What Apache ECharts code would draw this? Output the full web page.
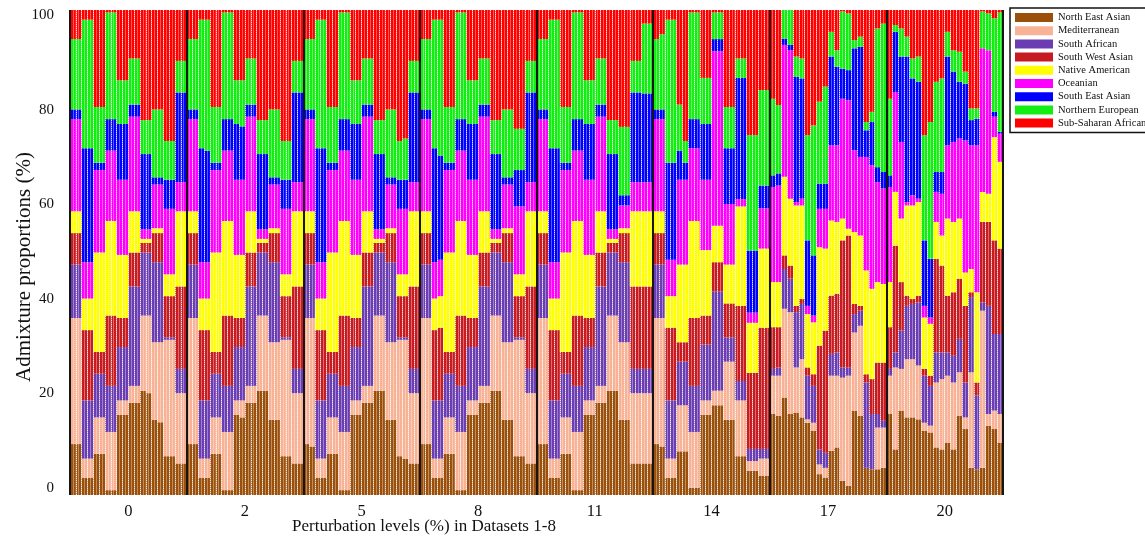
<!DOCTYPE html>
<html><head><meta charset="utf-8">
<script src="https://cdn.jsdelivr.net/npm/echarts@6/dist/echarts.min.js"></script>
<style>html,body{margin:0;padding:0;background:#fff}#c{width:1145px;height:543px}</style>
</head><body><div id="c"></div>
<script>
// Perturbation levels (one group of 20 individuals each)
const groupLabels = ['0', '2', '5', '8', '11', '14', '17', '20'];
const ancestryNames = ['North East Asian', 'Mediterranean', 'South African', 'South West Asian',
  'Native American', 'Oceanian', 'South East Asian', 'Northern European', 'Sub-Saharan African'];
const ancestryColors = ['#9A4F0B', '#F8B396', '#6B3DB2', '#C61B20', '#FFFF00', '#FF00FF', '#0000FF', '#12EE12', '#FF0000'];
const yTickLabels = ['0', '20', '40', '60', '80', '100'];

// Admixture proportions (%) per individual, 8 groups x 20 individuals
const northEastAsian = [
  10.5,10.5,3.5,3.5,8.5,8.5,1,1,16.5,16.5,19,19,21.5,21,15.5,15,8,8,6.5,6.5,
  10.5,10.5,3.5,3.5,8.5,8.5,1,1,16.5,16,19,19,21.5,21.5,15.5,15.5,8,8,6.5,6.5,
  10.5,10,3.5,3.5,8.5,8.5,1,1,16.5,16.5,19,19,21.5,21.5,15.5,15.5,8,7.5,6.5,6.5,
  10.5,10.5,3.5,3.5,8.5,8.5,1,1,16.5,16.5,19,19,21.5,21.5,15.5,15.5,8,8,6.5,6.5,
  10.5,10.5,3.5,3.5,8.5,8.5,1,1,16.5,16.5,19,19,21.5,21.5,15.5,15.5,6.5,6.5,6.5,6.5,
  10.5,10,3.5,3.5,9,9,1.5,1.5,16.5,16.5,18.5,18.5,15.5,15.5,8,8,5,5,4,4,
  16.7,16.3,20.1,16.7,17,16,14.9,13.2,4.3,3.6,9.1,9.8,2.9,1.9,17.4,16.3,5.6,5.3,5.3,5.6,
  16.7,9.4,17.4,16,16,15.6,13.2,12.9,9.8,9.4,10.8,9.4,16.3,13.6,5.6,5.3,5.6,14.3,13.6,10.8
];
const mediterranean = [
  26,26,4,4,7.5,7.5,12,12,3,3,3.5,3.5,15.5,16,16,16.5,24,24,14.5,14.5,
  26,26,4,4,7.5,7.5,12,12,3,3.5,3.5,3.5,15.5,15.5,16,16,24,24,14.5,14.5,
  26,26.5,4,4,7.5,7.5,12,12,3,3,3.5,3.5,15.5,15.5,16,16,24,24.5,14.5,14.5,
  26,26,4,4,7.5,7.5,12,12,3,3,3.5,3.5,15.5,15.5,16,16,24,24,14.5,14.5,
  26,26,4,4,7.5,7.5,12,12,3,3,3.5,3.5,15.5,15.5,16,16,14.5,14.5,14.5,14.5,
  26,26.5,4,4,9.5,9.5,11.5,11.5,3,3,3,3,12,12,11.5,11.5,2,2,3.5,3.5,
  7.9,8.3,18.3,21,9.3,12,0.7,1.7,2,2,15.5,14.8,21.3,22.7,16.1,18.6,0,0,8.6,8.3,
  7.9,16.9,8.6,12,12,11.1,1.7,1.4,13.4,14.5,13.8,13.8,9,2.4,19.7,0,32.4,2.4,3.8,5.9
];
const southAfrican = [
  11,11,12,12,9,9,9.5,9.5,11,11,20.5,20.5,13,13,16.5,16.5,0.5,0.5,5,5,
  11,11,12,12,9,9,9.5,9.5,11,11,20.5,20.5,13,13,16.5,16.5,0.5,0.5,5,5,
  11,11,12,12,9,9,9.5,9.5,11,11,20.5,20.5,13,13,16.5,16.5,0.5,0.5,5,5,
  11,11,12,12,9,9,9.5,9.5,11,11,20.5,20.5,13,13,16.5,16.5,0.5,0.5,5,5,
  11,11,12,12,9,9,9.5,9.5,11,11,20.5,20.5,13,13,16.5,16.5,5,5,5,5,
  11,11,12,12,9,9,9.5,9.5,11.5,11.5,20.5,20.5,5,5,4,4,2.5,2.5,2,2,
  1.4,1.7,8.2,6.9,11.4,11.4,9,7.6,3.1,3.1,4.5,4.8,2.1,1.7,3.8,3.1,17.6,11.4,2.8,1.4,
  1.4,3.1,7.9,11,11.4,13,9.7,8.2,6.2,5.5,4.8,5.5,6.9,7.2,15.5,15.2,1.7,22.3,15.8,16.5
];
const southWestAsian = [
  6.5,6.5,14.5,14.5,4.5,4.5,14.5,14.5,6,6,7,7,2,2,6,6,8.5,8.5,17,17,
  6.5,6.5,14.5,14.5,4.5,4.5,14.5,14.5,6,6,7,7,2,2,6,6,8.5,8.5,17,17,
  6.5,6.5,14.5,14.5,4.5,4.5,14.5,14.5,6,6,7,7,2,2,6,6,8.5,8.5,17,17,
  6.5,6.5,14.5,15,4.5,4.5,14.5,14.5,6,6,7,7,2,2,6,6,8.5,8.5,17,17,
  6.5,6.5,14.5,14.5,4.5,4.5,14.5,14.5,6,6,7,7,2,2,6,6,17,17,17,17,
  6.5,6.5,15,15,4,4,14,14,6,6,6,6,7,7,15.5,15.5,15.7,15.7,25,25,
  8.6,8.3,2.8,2.7,1.3,1,1.7,2.4,21.4,25.2,12,12.1,26.2,27.2,2.1,1,1.7,7.2,10.6,12,
  8.6,22,10,2.1,1,1.4,1.4,2.1,19.3,17.9,11.7,13.1,12.4,15.8,1,2.7,16.6,17.3,19.3,17.6
];
const nativeAmerican = [
  4.5,4.5,6.5,6.5,20.5,20.5,19.5,19.5,13,13,8.5,8.5,0.8,0.8,1,1,4.5,4.5,15.5,15.5,
  4.5,4.5,6.5,6.5,20.5,20.5,19.5,19.5,13,13,8.5,8.5,0.8,0.8,1,1,4.5,4.5,15.5,15.5,
  4.5,4.5,6.5,6.5,20.5,20.5,19.5,19.5,13,13,8.5,8.5,0.8,0.8,1,1,4.5,4.5,15.5,15.5,
  4.5,4.5,6.5,6.5,20.5,20.5,19.5,19.5,13,13,8.5,8.5,0.8,0.8,1,1,4.5,4.5,15.5,15.5,
  4.5,4.5,6.5,6.5,20.5,20.5,19.5,19.5,13,13,8.5,8.5,0.8,0.8,1,1,15.5,15.5,15.5,15.5,
  4.5,4.5,6.5,6.5,16,16,20,20,13.5,13.5,7.5,7.5,8,8,20.5,20.5,10.3,10.3,16.3,16.3,
  9.3,9.3,16.2,13.8,20.7,19.3,11,10.7,20.3,16.9,15.5,14.8,4.5,1.4,14.8,14.5,21.4,18.6,16.6,16.2,
  9.3,11.1,13.1,18.6,19.3,19.3,10.6,10.7,7.6,6.2,15.9,14.5,12.4,6.9,4.8,18.6,6.2,5.8,21.3,17.9
];
const oceanian = [
  19,19,7.5,7.5,17,17,14.5,14.5,15.5,15.5,19.5,19.5,2,2,9,9,13.5,13.5,6,6,
  19,19,7.5,7.5,17,17,14.5,14.5,15.5,15.5,19.5,19.5,2,2,9,9,13.5,13.5,6,6,
  19,19,7.5,7.5,17,17,14.5,14.5,15.5,15.5,19.5,19.5,2,2,9,9,13.5,13.5,6,6,
  19,19,7.5,7.5,17,17,14.5,14.5,15.5,15.5,19.5,19.5,2,2,9,9,14,14,6,6,
  19,19,7.5,7.5,17,17,14.5,14.5,15.5,15.5,19.5,19.5,2,2,4.7,4.7,6,6,6,6,
  19,19,7.5,7.5,17.5,17.5,15,15,14.5,14.5,36,36,12.5,12.5,1.5,1.5,2.1,2.1,8.3,8.3,
  19.6,19.9,27.2,30.6,0.7,1.4,1.7,1.4,7.9,8.2,15.5,15.8,24.7,26.5,16.9,16.2,23.4,25.5,20.6,19.7,
  19.6,20.6,15.8,0.7,2.1,0.7,2.4,1.3,6.2,8.6,15.1,16.5,16.5,27.2,25.5,30.3,29.6,29.6,4.2,5.8
];
const southEastAsian = [
  2,2,23.5,23.5,1.5,1.5,6.5,6.5,11.5,11.5,2.5,2.5,15.5,15.5,1.5,1.5,6,6,18.5,18.5,
  2,2,23.5,23,1.5,1.5,6.5,6.5,11.5,11,2.5,2.5,15.5,15.5,1.5,1.5,6,6,18.5,18.5,
  2,2,23.5,23.5,1.5,1.5,6.5,6.5,11.5,11.5,2.5,2.5,15.5,15.5,1.5,1.5,6,6,18.5,18.5,
  2,2,23.5,21.5,1.5,1.5,6.5,6.5,11.5,11.5,2.5,2.5,15.5,15.5,1.5,1.5,7.5,7.5,18.5,18.5,
  2,2,23.5,23.5,1.5,1.5,6.5,6.5,11.5,11.5,2.5,2.5,15.5,15.5,2.1,2.1,18.5,18.5,18.3,18.3,
  2,2,20,20,6,3.5,6,6,11.5,11.5,2.5,2.5,11.5,11.5,25,25,12.8,12.8,4.7,4.7,
  2.4,2.5,1.3,1.1,25.8,24.8,13.5,12.4,5.2,5.2,18.3,16.2,6.2,6.2,21,22.7,5.5,8.9,3.1,3.4,
  2.4,12.4,17.6,30,24.1,24.1,13.5,12.1,4.1,4.5,18.3,14.5,11.7,11.7,5.2,5.5,0,0,1,0.4
];
const northernEuropean = [
  14.5,14.5,26.5,26.5,11.5,11.5,22,22,9,9,9.5,9.5,7,7,14,14,8,8,6.5,6.5,
  14.5,14.5,26.5,27,11.5,11.5,22,22,9,9.5,9.5,9.5,7,7,14,14,8,8,6.5,6.5,
  14.5,14.5,26.5,26.5,11.5,11.5,22,22,9,9,9.5,9.5,7,7,14,14,8,8.5,6.5,6.5,
  14.5,14.5,26.5,28,11.5,11.5,22,22,9,9,9.5,9.5,7,7,14,14,8.5,8.5,6.5,6.5,
  14.5,14.5,26.5,26.5,11.5,11.5,22,22,9,9,9.5,9.5,7,7,14.1,14.1,6.5,6.5,14.4,14.4,
  14.5,15.5,29.5,29.5,9.5,4.5,22,22,9.5,9.5,5.5,5.5,8.5,8.5,4,4,23.8,23.8,19.7,19.7,
  15.8,14.1,5.9,7.2,4.2,4.1,21.7,26.8,16.9,20,5.1,3.4,11.8,11.7,1.7,2.1,1.7,2.1,28.6,30.6,
  15.8,1.4,5.8,4.1,4.1,5.2,21.7,28.2,18.6,19.3,5.1,4.4,6.2,2.5,2.4,2.1,7.6,7.6,19.3,24.6
];
const subSaharanAfrican = [
  6,6,2,2,20,20,0.5,0.5,14.5,14.5,10,10,22.7,22.7,20.5,20.5,27,27,10.5,10.5,
  6,6,2,2,20,20,0.5,0.5,14.5,14.5,10,10,22.7,22.7,20.5,20.5,27,27,10.5,10.5,
  6,6,2,2,20,20,0.5,0.5,14.5,14.5,10,10,22.7,22.7,20.5,20.5,27,26.5,10.5,10.5,
  6,6,2,2,20,20,0.5,0.5,14.5,14.5,10,10,22.7,22.7,20.5,20.5,24.5,24.5,10.5,10.5,
  6,6,2,2,20,20,0.5,0.5,14.5,14.5,10,10,22.7,22.7,24.1,24.1,10.5,10.5,2.8,2.8,
  6,5,2,2,19.5,27,0.5,0.5,14,14,0.5,0.5,20,20,10,10,25.8,25.8,16.5,16.5,
  18.3,19.6,0,0,9.6,10,25.8,23.8,18.9,15.8,4.5,8.3,0.3,0.7,6.2,5.5,23.1,21,3.8,2.8,
  18.3,3.1,3.8,5.5,10,9.6,25.8,23.1,14.8,14.1,4.5,8.3,8.6,12.7,20.3,20.3,0.3,0.7,1.7,0.5
];

const seriesValues = [northEastAsian, mediterranean, southAfrican, southWestAsian, nativeAmerican,
  oceanian, southEastAsian, northernEuropean, subSaharanAfrican];

// category ids: one per individual, and half-width ids for the fine white stripes
const barIds = [];
groupLabels.forEach(g => { for (let i = 1; i <= 20; i++) barIds.push(g + '-' + i); });
const halfIds = [];
barIds.forEach(b => { halfIds.push(b + 'a'); halfIds.push(b + 'b'); });

const serif = 'Liberation Serif';
const chart = echarts.init(document.getElementById('c'), null, { renderer: 'canvas' });
chart.setOption({
  animation: false,
  backgroundColor: '#ffffff',
  grid: { left: 70, right: 142, top: 10, bottom: 48, containLabel: false },
  legend: {
    orient: 'vertical', left: 1010, top: 8,
    itemWidth: 38, itemHeight: 9, itemGap: 2.2,
    padding: [4, 4, 4, 5],
    borderColor: '#111', borderWidth: 1.5,
    icon: 'rect', selectedMode: false,
    textStyle: { fontFamily: serif, fontSize: 10.5, color: '#111' },
    data: ancestryNames
  },
  xAxis: [
    { type: 'category', data: barIds, position: 'bottom', z: 5,
      axisLine: { show: false }, axisTick: { show: false }, axisLabel: { show: false },
      splitLine: { show: true, interval: 0, lineStyle: { color: 'rgba(255,255,255,0.8)', width: 1, type: [1, 1] } } },
    { type: 'category', data: halfIds, position: 'top', z: 4,
      axisLine: { show: false }, axisTick: { show: false }, axisLabel: { show: false },
      splitLine: { show: true, interval: 0, lineStyle: { color: 'rgba(255,255,255,0.35)', width: 1 } } },
    { type: 'category', data: groupLabels, position: 'bottom', z: 6,
      axisLine: { show: false }, axisTick: { show: false },
      axisLabel: { fontFamily: serif, fontSize: 16.5, color: '#111', margin: 8 },
      splitLine: { show: true, interval: 0, lineStyle: { color: '#151515', width: 2 } } }
  ],
  yAxis: [
    { type: 'value', min: 0, max: 100, show: false },
    { type: 'value', min: -1.48, max: 101.06, splitNumber: 5, position: 'left',
      axisLine: { show: false }, axisTick: { show: false }, splitLine: { show: false },
      axisLabel: { fontFamily: serif, fontSize: 15, color: '#111', margin: 16,
        formatter: v => { const r = Math.round(v); return (Math.abs(v - r) < 1e-6 && yTickLabels.indexOf(String(r)) >= 0) ? String(r) : ''; } } }
  ],
  graphic: [
    { type: 'text', x: 24, y: 267, rotation: Math.PI / 2,
      style: { text: 'Admixture proportions (%)', fontFamily: serif, fontSize: 21, fill: '#111',
        textAlign: 'center', textVerticalAlign: 'middle' } },
    { type: 'text', x: 292, y: 527,
      style: { text: 'Perturbation levels (%) in Datasets 1-8', fontFamily: serif, fontSize: 17, fill: '#111',
        textAlign: 'left', textVerticalAlign: 'middle' } }
  ],
  series: ancestryNames.map((name, k) => ({
    name: name, type: 'bar', stack: 'total', xAxisIndex: 0, yAxisIndex: 0,
    barCategoryGap: '0%', barGap: '0%', silent: true,
    itemStyle: { color: ancestryColors[k] },
    data: seriesValues[k]
  }))
});
</script>
</body></html>
